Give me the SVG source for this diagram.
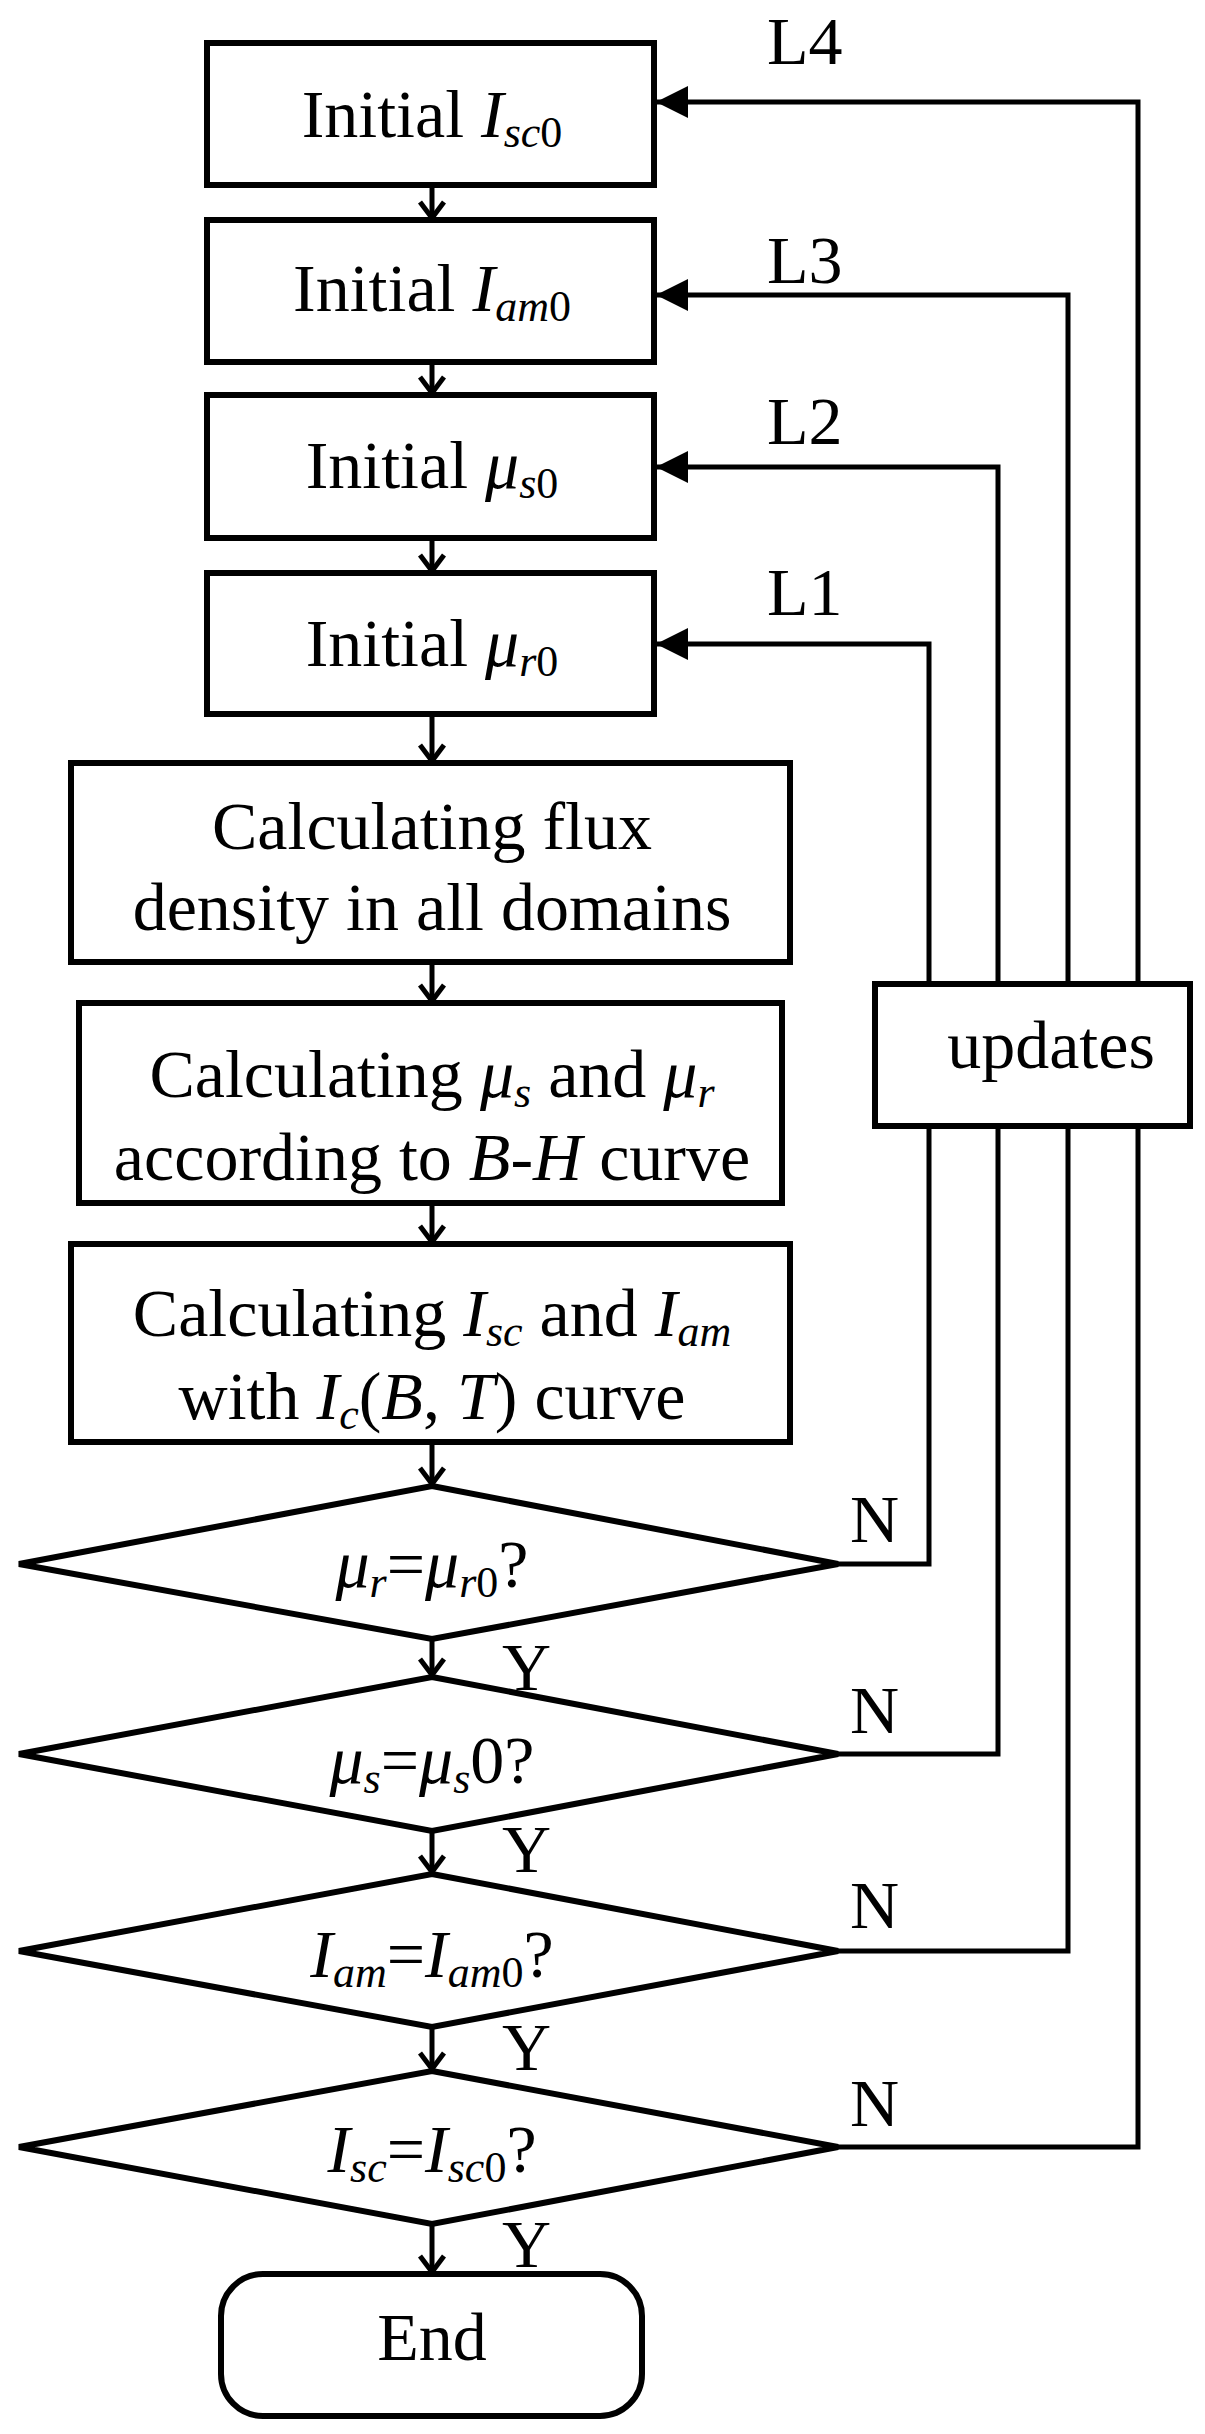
<svg xmlns="http://www.w3.org/2000/svg" width="1205" height="2434" viewBox="0 0 1205 2434">
<style>
.n{fill:#fff;stroke:#000;stroke-width:6}
.c{fill:none;stroke:#000;stroke-width:5}
text{font-family:"Liberation Serif","Times New Roman",serif;font-size:68px;fill:#000;text-anchor:middle}
.i{font-style:italic}
.s{font-size:44px;font-style:italic}
.l{text-anchor:start}
</style>
<defs>
<marker id="v" markerUnits="userSpaceOnUse" viewBox="-14 -20 28 24" refX="0" refY="0" markerWidth="28" markerHeight="24" orient="auto-start-reverse">
<path d="M-18,-12 L0,0 L-18,12" transform="rotate(0)" fill="none" stroke="#000" stroke-width="5"/>
</marker>
<marker id="f" markerUnits="userSpaceOnUse" viewBox="-32 -16 34 32" refX="0" refY="0" markerWidth="34" markerHeight="32" orient="auto">
<path d="M0,0 L-32,-16 L-32,16 Z" fill="#000"/>
</marker>
<marker id="d" markerUnits="userSpaceOnUse" viewBox="-20 -14 22 28" refX="0" refY="0" markerWidth="22" markerHeight="28" orient="auto">
<path d="M-16,-12 L0,0 L-16,12" fill="none" stroke="#000" stroke-width="5"/>
</marker>
</defs>
<g id="connectors">
<path class="c" d="M432,185 V218" marker-end="url(#d)"/>
<path class="c" d="M432,362 V393" marker-end="url(#d)"/>
<path class="c" d="M432,538 V571" marker-end="url(#d)"/>
<path class="c" d="M432,714 V761" marker-end="url(#d)"/>
<path class="c" d="M432,962 V1001" marker-end="url(#d)"/>
<path class="c" d="M432,1203 V1242" marker-end="url(#d)"/>
<path class="c" d="M432,1442 V1484" marker-end="url(#d)"/>
<path class="c" d="M432,1639 V1675" marker-end="url(#d)"/>
<path class="c" d="M432,1831 V1872" marker-end="url(#d)"/>
<path class="c" d="M432,2027 V2069" marker-end="url(#d)"/>
<path class="c" d="M432,2224 V2272" marker-end="url(#d)"/>
<path class="c" d="M838,1564 H929 V644 H656" marker-end="url(#f)"/>
<path class="c" d="M838,1754 H998 V467 H656" marker-end="url(#f)"/>
<path class="c" d="M838,1951 H1068 V295 H656" marker-end="url(#f)"/>
<path class="c" d="M838,2147 H1138 V102 H656" marker-end="url(#f)"/>
</g>
<g id="box1"><rect class="n" x="207" y="43" width="447" height="142"/><text x="432" y="137">Initial <tspan class="i">I</tspan><tspan class="s" dy="10">sc</tspan><tspan font-size="44" dy="0">0</tspan></text></g>
<g id="box2"><rect class="n" x="207" y="220" width="447" height="142"/><text x="432" y="311">Initial <tspan class="i">I</tspan><tspan class="s" dy="10">am</tspan><tspan font-size="44">0</tspan></text></g>
<g id="box3"><rect class="n" x="207" y="395" width="447" height="143"/><text x="432" y="488">Initial <tspan class="i">μ</tspan><tspan class="s" dy="10">s</tspan><tspan font-size="44">0</tspan></text></g>
<g id="box4"><rect class="n" x="207" y="573" width="447" height="141"/><text x="432" y="666">Initial <tspan class="i">μ</tspan><tspan class="s" dy="10">r</tspan><tspan font-size="44">0</tspan></text></g>
<g id="box5"><rect class="n" x="71" y="763" width="719" height="199"/><text x="432" y="849">Calculating flux</text><text x="432" y="930">density in all domains</text></g>
<g id="box6"><rect class="n" x="79" y="1003" width="703" height="200"/><text x="432" y="1097">Calculating <tspan class="i">μ</tspan><tspan class="s" dy="10">s</tspan><tspan dy="-10"> and </tspan><tspan class="i">μ</tspan><tspan class="s" dy="10">r</tspan></text><text x="432" y="1180">according to <tspan class="i">B</tspan>-<tspan class="i">H</tspan> curve</text></g>
<g id="box7"><rect class="n" x="71" y="1244" width="719" height="198"/><text x="432" y="1336">Calculating <tspan class="i">I</tspan><tspan class="s" dy="10">sc</tspan><tspan dy="-10"> and </tspan><tspan class="i">I</tspan><tspan class="s" dy="10">am</tspan></text><text x="432" y="1419">with <tspan class="i">I</tspan><tspan class="s" dy="10">c</tspan><tspan dy="-10">(</tspan><tspan class="i">B</tspan>, <tspan class="i">T</tspan>) curve</text></g>
<g id="updates"><rect class="n" x="875" y="984" width="315" height="142"/><text x="1051" y="1068">updates</text></g>
<g id="d1"><polygon class="n" points="432,1486 838,1564 432,1639 19,1564"/><text x="432" y="1587"><tspan class="i">μ</tspan><tspan class="s" dy="10">r</tspan><tspan dy="-10">=</tspan><tspan class="i">μ</tspan><tspan class="s" dy="10">r</tspan><tspan font-size="44">0</tspan><tspan dy="-10">?</tspan></text></g>
<g id="d2"><polygon class="n" points="432,1677 838,1754 432,1831 19,1754"/><text x="432" y="1783"><tspan class="i">μ</tspan><tspan class="s" dy="10">s</tspan><tspan dy="-10">=</tspan><tspan class="i">μ</tspan><tspan class="s" dy="10">s</tspan><tspan dy="-10">0?</tspan></text></g>
<g id="d3"><polygon class="n" points="432,1874 838,1951 432,2027 19,1951"/><text x="432" y="1977"><tspan class="i">I</tspan><tspan class="s" dy="10">am</tspan><tspan dy="-10">=</tspan><tspan class="i">I</tspan><tspan class="s" dy="10">am</tspan><tspan font-size="44">0</tspan><tspan dy="-10">?</tspan></text></g>
<g id="d4"><polygon class="n" points="432,2071 838,2147 432,2224 19,2147"/><text x="432" y="2172"><tspan class="i">I</tspan><tspan class="s" dy="10">sc</tspan><tspan dy="-10">=</tspan><tspan class="i">I</tspan><tspan class="s" dy="10">sc</tspan><tspan font-size="44">0</tspan><tspan dy="-10">?</tspan></text></g>
<g id="end"><rect class="n" x="221" y="2274" width="421" height="142" rx="42"/><text x="432" y="2360">End</text></g>
<g id="labels">
<text class="l" x="767" y="64">L4</text><text class="l" x="767" y="283">L3</text><text class="l" x="767" y="444">L2</text><text class="l" x="767" y="615">L1</text>
<text class="l" x="850" y="1542">N</text><text class="l" x="850" y="1733">N</text><text class="l" x="850" y="1928">N</text><text class="l" x="850" y="2126">N</text>
<text class="l" x="502" y="1690">Y</text><text class="l" x="502" y="1872">Y</text><text class="l" x="502" y="2070">Y</text><text class="l" x="502" y="2267">Y</text>
</g>
</svg>
